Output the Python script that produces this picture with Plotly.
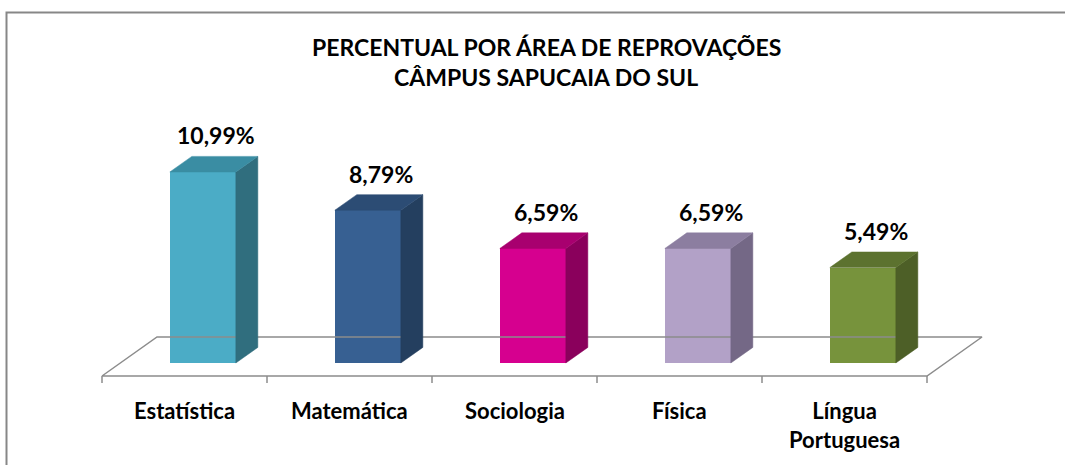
import plotly.graph_objects as go

# ---- data ----
categories = ["Estatística", "Matemática", "Sociologia", "Física", "Língua<br>Portuguesa"]
values = [10.99, 8.79, 6.59, 6.59, 5.49]
front_colors = ["#4BACC6", "#376092", "#D6008F", "#B2A1C7", "#77933C"]
top_colors = ["#3A8DA3", "#2C4C74", "#A8006F", "#8C7EA0", "#5C722F"]
side_colors = ["#306E7E", "#243F5F", "#8A005C", "#746886", "#4D5F27"]
title_lines = ["PERCENTUAL POR ÁREA DE REPROVAÇÕES", "CÂMPUS SAPUCAIA DO SUL"]

W, H = 1065, 465
# pixel geometry of the pseudo-3D scale
CAT_PX = 165.0          # px per category
CAT0_PX = 184.5         # px of first category centre (floor front)
FLOOR_Y_PX = 376.0      # px of floor front edge
UNIT_PX = 17.38         # px per percentage point
DEPTH_PX = (55.0, 39.0) # floor depth vector (right, up) in px

DX = DEPTH_PX[0] / CAT_PX
DY = DEPTH_PX[1] / UNIT_PX
D0, D1 = 1 / 3, 1 / 3 + 0.4   # bar front / back depth fractions
BW = 0.4                      # bar width in category units

x_range = [-CAT0_PX / CAT_PX, (W - CAT0_PX) / CAT_PX]
y_range = [(FLOOR_Y_PX - H) / UNIT_PX, FLOOR_Y_PX / UNIT_PX]

n = len(categories)
fig = go.Figure()

# floor outline
fx = [-0.5, -0.5 + DX, n - 0.5 + DX, n - 0.5, -0.5]
fy = [0, DY, DY, 0, 0]
fig.add_trace(go.Scatter(x=fx, y=fy, mode="lines", line=dict(color="#8C8C8C", width=1.5),
                         hoverinfo="skip", showlegend=False))
# tick marks at category boundaries
tx, ty = [], []
tick_len = 7 / UNIT_PX
for k in range(n + 1):
    tx += [k - 0.5, k - 0.5, None]
    ty += [0, -tick_len, None]
fig.add_trace(go.Scatter(x=tx, y=ty, mode="lines", line=dict(color="#8C8C8C", width=1.5),
                         hoverinfo="skip", showlegend=False))

base = D0 * DY
ddx = (D1 - D0) * DX
ddy = (D1 - D0) * DY
for i, v in enumerate(values):
    cx = i + D0 * DX
    xl, xr = cx - BW / 2, cx + BW / 2
    # front face
    fig.add_trace(go.Bar(x=[cx], y=[v], base=[base], width=[BW],
                         marker=dict(color=front_colors[i], line=dict(width=0)),
                         hoverinfo="skip", showlegend=False))
    # side face
    fig.add_trace(go.Scatter(
        x=[xr, xr + ddx, xr + ddx, xr, xr],
        y=[base, base + ddy, base + v + ddy, base + v, base],
        fill="toself", fillcolor=side_colors[i], mode="lines",
        line=dict(color=side_colors[i], width=0.5), hoverinfo="skip", showlegend=False))
    # top face
    fig.add_trace(go.Scatter(
        x=[xl, xr, xr + ddx, xl + ddx, xl],
        y=[base + v, base + v, base + v + ddy, base + v + ddy, base + v],
        fill="toself", fillcolor=top_colors[i], mode="lines",
        line=dict(color=top_colors[i], width=0.5), hoverinfo="skip", showlegend=False))
    # value label
    fig.add_annotation(x=cx + ddx / 2 + 0.015, y=base + v + ddy, yshift=5,
                       text=f"{v:.2f}".replace(".", ",") + "%", showarrow=False,
                       xanchor="center", yanchor="bottom",
                       font=dict(family="Lato", size=23, color="#000000", weight="bold"))
    # category label
    fig.add_annotation(x=i, y=0, yshift=-19, text=categories[i], showarrow=False,
                       xanchor="center", yanchor="top", align="center",
                       font=dict(family="Lato", size=22, color="#000000", weight="bold"))

# title
for j, t in enumerate(title_lines):
    fig.add_annotation(xref="paper", yref="paper", x=546 / W, y=1 - (47 + 30 * j) / H,
                       text=t, showarrow=False, xanchor="center", yanchor="middle",
                       font=dict(family="Lato", size=23, color="#000000", weight="bold"))

# chart-area border
fig.add_shape(type="rect", xref="paper", yref="paper",
              x0=6.5 / W, x1=1.05, y0=-0.05, y1=1 - 12.5 / H,
              line=dict(color="#878787", width=2), fillcolor="rgba(0,0,0,0)", layer="below")

fig.update_layout(
    width=W, height=H, autosize=False,
    margin=dict(l=0, r=0, t=0, b=0),
    paper_bgcolor="white", plot_bgcolor="white",
    xaxis=dict(range=x_range, visible=False, fixedrange=True),
    yaxis=dict(range=y_range, visible=False, fixedrange=True),
    bargap=0, showlegend=False,
)
fig.write_html("out.html", config={"displayModeBar": False},
               post_script="document.body.style.margin='0px';")
